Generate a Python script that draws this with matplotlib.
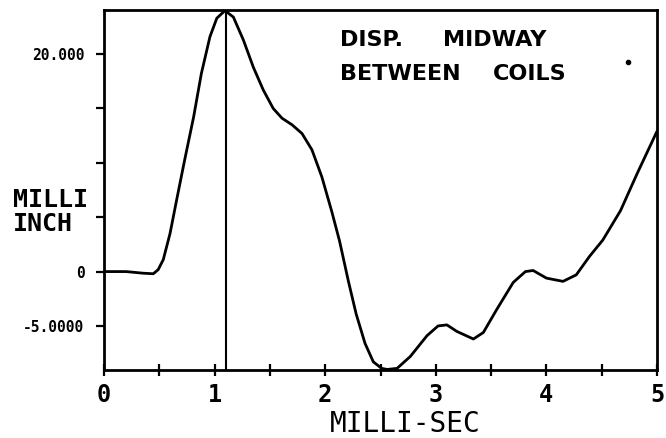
import matplotlib.pyplot as plt
import numpy as np

# time in milli-sec, displacement in milli-inch
t = [0.0, 0.2, 0.355, 0.446, 0.49, 0.536, 0.597, 0.657, 0.73, 0.81, 0.88,
     0.958, 1.02, 1.094, 1.17, 1.26, 1.35, 1.44, 1.53, 1.61, 1.70, 1.79,
     1.88, 1.97, 2.06, 2.13, 2.21, 2.28, 2.36, 2.435, 2.51, 2.56, 2.65,
     2.77, 2.92, 3.02, 3.10, 3.19, 3.34, 3.43, 3.55, 3.70, 3.81, 3.88,
     4.00, 4.15, 4.27, 4.39, 4.51, 4.67, 4.82, 5.0]
disp = [0.0, 0.0, -0.15, -0.2, 0.18, 1.1, 3.5, 6.6, 10.3, 14.2, 18.2,
        21.6, 23.3, 24.0, 23.4, 21.3, 18.8, 16.7, 15.0, 14.1, 13.5, 12.7,
        11.2, 8.7, 5.5, 2.8, -0.9, -3.9, -6.6, -8.3, -8.9, -9.0, -8.9,
        -7.8, -5.9, -5.0, -4.9, -5.5, -6.2, -5.6, -3.5, -1.0, 0.0, 0.1,
        -0.6, -0.9, -0.3, 1.4, 2.9, 5.6, 9.0, 12.9]

peak_t = 1.1
yticks = [-5, 0, 5, 10, 15, 20]
ytick_labels = ["-5.0000", "0", "", "", "", "20.000"]
xticks = [0, 1, 2, 3, 4, 5]

# annotation words: (text, x, y)
note_words = [("DISP.", 2.134, 21.3), ("MIDWAY", 3.065, 21.3),
              ("BETWEEN", 2.134, 18.2), ("COILS", 3.517, 18.2)]

mono = "DejaVu Sans Mono"

fig = plt.figure(figsize=(6.66, 4.38), dpi=100)
ax = fig.add_axes([104 / 666, 1 - 370 / 438, 553 / 666, 360.5 / 438])

ax.plot(t, disp, color="black", lw=2.0, solid_capstyle="round",
        solid_joinstyle="round")
ax.axvline(peak_t, color="black", lw=1.5)

ax.set_xlim(0, 5)
ax.set_ylim(-9.05, 24.1)

ax.set_xticks(xticks)
ax.set_xticklabels([str(x) for x in xticks], family=mono, fontsize=17,
                   fontweight="bold")
ax.set_xticks(np.arange(0.5, 5, 1.0), minor=True)
ax.set_yticks(yticks)
ax.set_yticklabels(ytick_labels, family=mono, fontsize=10.5, fontweight="bold")
ax.tick_params(axis="x", which="both", direction="inout", length=8, width=1.6, pad=5)
ax.tick_params(axis="y", which="both", direction="out", length=6, width=1.6, pad=8)

for s in ax.spines.values():
    s.set_linewidth(2.0)

fig.text(405 / 666, 1 - 424 / 438, "MILLI-SEC", family=mono, fontsize=20,
         ha="center", va="center")
fig.text(13 / 666, 1 - 212 / 438, "MILLI\nINCH", family=mono, fontsize=18,
         fontweight="bold", ha="left", va="center", linespacing=1.0)

for word, wx, wy in note_words:
    ax.text(wx, wy, word, fontsize=16, fontweight="bold", ha="left", va="center")
ax.plot([4.74], [19.3], "o", color="black", ms=3)

plt.savefig("out.png", dpi=100)
